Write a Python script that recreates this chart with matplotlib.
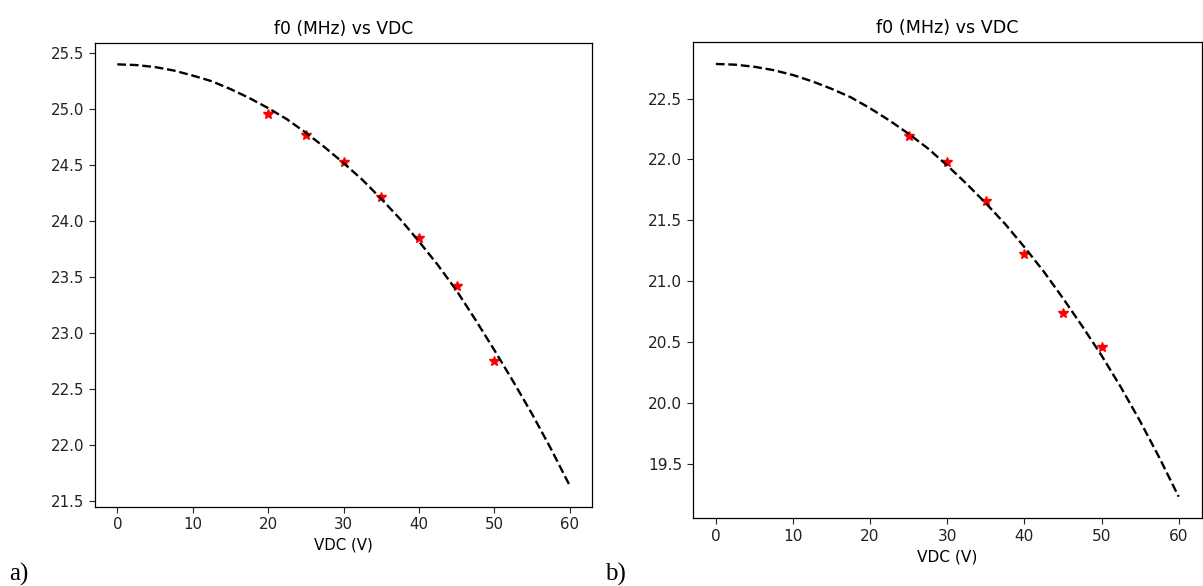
import matplotlib
matplotlib.use("Agg")
import matplotlib.pyplot as plt

# ---- data ----
vdc_meas_a = [20, 25, 30, 35, 40, 45, 50]
f0_meas_a = [24.96, 24.77, 24.53, 24.22, 23.85, 23.42, 22.75]

vdc_fit = [0, 2.5, 5, 7.5, 10, 12.5, 15, 17.5, 20, 22.5, 25, 27.5, 30, 32.5, 35,
           37.5, 40, 42.5, 45, 47.5, 50, 52.5, 55, 57.5, 60]
f0_fit_a = [25.40, 25.394, 25.376, 25.345, 25.30, 25.25, 25.18, 25.10, 25.01, 24.91,
            24.79, 24.66, 24.52, 24.37, 24.20, 24.02, 23.82, 23.61, 23.38, 23.12,
            22.85, 22.57, 22.28, 21.97, 21.64]

vdc_meas_b = [25, 30, 35, 40, 45, 50]
f0_meas_b = [22.19, 21.98, 21.66, 21.22, 20.74, 20.46]

f0_fit_b = [22.784, 22.778, 22.761, 22.733, 22.693, 22.641, 22.58, 22.51, 22.42, 22.32,
            22.21, 22.09, 21.95, 21.80, 21.64, 21.47, 21.28, 21.08, 20.86, 20.63,
            20.39, 20.13, 19.85, 19.55, 19.23]

title = "f0 (MHz) vs VDC"
xlabel = "VDC (V)"
panel_labels = ["a)", "b)"]

fig = plt.figure(figsize=(12.03, 5.86), dpi=100)
fig.patch.set_facecolor("white")

ax1 = fig.add_axes([0.0787, 0.1353, 0.4137, 0.7908])
ax2 = fig.add_axes([0.5758, 0.1155, 0.4232, 0.8123])

for ax, vx, vy, fy, fs in [(ax1, vdc_meas_a, f0_meas_a, f0_fit_a, 10.8),
                           (ax2, vdc_meas_b, f0_meas_b, f0_fit_b, 11.1)]:
    ax.plot(vx, vy, linestyle="none", marker="*", color="red", markersize=7)
    ax.plot(vdc_fit, fy, linestyle="--", color="black", linewidth=1.7)
    ax.set_title(title, fontsize=fs + 1.5, pad=7)
    ax.set_xlabel(xlabel, fontsize=fs)
    ax.set_xticks([0, 10, 20, 30, 40, 50, 60])
    ax.tick_params(labelsize=fs, length=4, colors="#222222")
    for s in ax.spines.values():
        s.set_linewidth(0.9)

fig.text(0.008, 0.009, panel_labels[0], family="Liberation Serif", fontsize=18,
         va="baseline", ha="left")
fig.text(0.503, 0.009, panel_labels[1], family="Liberation Serif", fontsize=18,
         va="baseline", ha="left")

fig.savefig("out.png", dpi=100, facecolor="white")
